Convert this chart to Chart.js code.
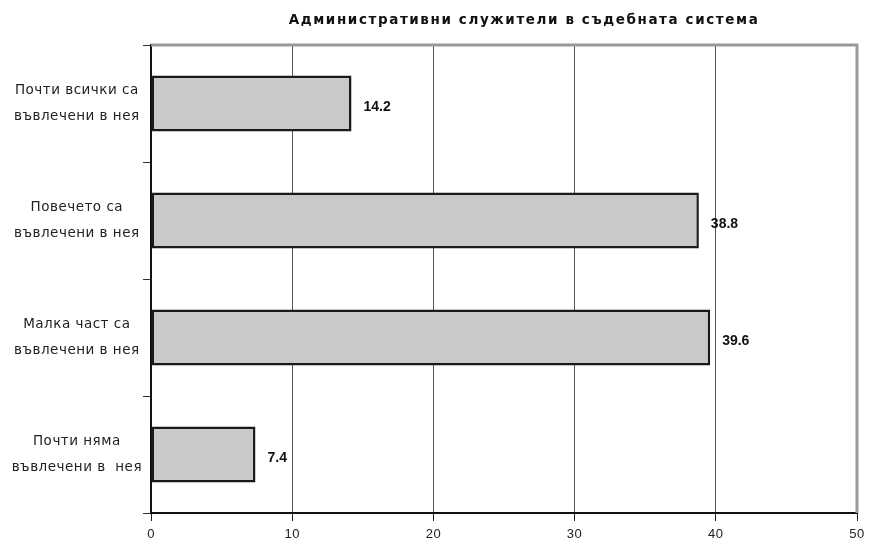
<!DOCTYPE html>
<html>
<head>
<meta charset="utf-8">
<script src="https://cdn.jsdelivr.net/npm/chart.js@4.4.0/dist/chart.umd.min.js"></script>
<style>
  html, body { margin: 0; padding: 0; background: #fff; }
  #wrap { width: 869px; height: 548px; }
</style>
</head>
<body>
<div id="wrap"><canvas id="mycanvas"></canvas></div>
<script>
var categories = [
	["Почти всички са", "въвлечени в нея"],
	["Повечето са", "въвлечени в нея"],
	["Малка част са", "въвлечени в нея"],
	["Почти няма", "въвлечени в  нея"]
];
var values = [14.2, 38.8, 39.6, 7.4];
var title = "Административни служители в съдебната система";

// the reference text is a little spaced out
var spacing = {
	id: "spacing",
	beforeLayout: function(chart) { chart.ctx.letterSpacing = "0.5px"; },
	beforeDraw: function(chart) { chart.ctx.letterSpacing = "0.5px"; }
};

// title, sitting a bit right of the plot centre like the original
var plotTitle = {
	id: "plotTitle",
	afterDraw: function(chart) {
		var a = chart.chartArea, ctx = chart.ctx;
		ctx.save();
		ctx.letterSpacing = "1.6px";
		ctx.font = "bold 13.5px 'DejaVu Sans', sans-serif";
		ctx.fillStyle = "#111";
		ctx.textAlign = "center";
		ctx.textBaseline = "middle";
		ctx.fillText(title, (a.left + a.right) / 2 + 20, 20);
		ctx.restore();
	}
};

// value labels to the right of each bar
var valueLabels = {
	id: "valueLabels",
	afterDatasetsDraw: function(chart) {
		var ctx = chart.ctx;
		var meta = chart.getDatasetMeta(0);
		ctx.save();
		ctx.letterSpacing = "0px";
		ctx.font = "bold 14px 'Liberation Sans', Arial, sans-serif";
		ctx.fillStyle = "#111";
		ctx.textBaseline = "middle";
		meta.data.forEach(function(bar, i) {
			ctx.fillText(values[i].toFixed(1), bar.x + 12, bar.y + 4);
		});
		ctx.restore();
	}
};

// gray frame on top and right of the plot
var frame = {
	id: "frame",
	beforeDatasetsDraw: function(chart) {
		var a = chart.chartArea, ctx = chart.ctx;
		ctx.save();
		ctx.strokeStyle = "#999";
		ctx.lineWidth = 3;
		ctx.beginPath();
		ctx.moveTo(a.left, a.top);
		ctx.lineTo(a.right, a.top);
		ctx.lineTo(a.right, a.bottom);
		ctx.stroke();
		ctx.restore();
	}
};

var ctx = document.getElementById("mycanvas");
var chart = new Chart(ctx, {
	type: "bar",
	data: {
		labels: categories,
		datasets: [{
			data: values,
			backgroundColor: "#c8c9cb",
			borderColor: "#1a1a1a",
			borderWidth: 2.5,
			borderSkipped: false,
			barPercentage: 0.48,
			categoryPercentage: 1
		}]
	},
	options: {
		indexAxis: "y",
		responsive: true,
		maintainAspectRatio: false,
		animation: false,
		layout: { padding: { left: 0, right: 0, top: 45, bottom: 0 } },
		plugins: {
			legend: { display: false },
			tooltip: { enabled: false },
			title: { display: false }
		},
		scales: {
			x: {
				min: 0,
				max: 50,
				ticks: {
					stepSize: 10,
					color: "#222",
					font: { family: "'Liberation Sans', Arial, sans-serif", size: 13 },
					padding: 6
				},
				grid: { color: "#555", lineWidth: 1, tickLength: 8, tickColor: "#222" },
				border: { color: "#111", width: 2 },
				afterFit: function(s) { s.height = 35; s.paddingRight = 12; }
			},
			y: {
				ticks: {
					color: "#222",
					font: { family: "'DejaVu Sans', sans-serif", size: 13.5, lineHeight: 1.9 },
					crossAlign: "center",
					padding: 1
				},
				grid: { offset: true, drawOnChartArea: false, tickLength: 8, tickColor: "#333" },
				border: { color: "#111", width: 2 },
				afterFit: function(s) { s.width = 151; }
			}
		}
	},
	plugins: [spacing, frame, valueLabels, plotTitle]
});
</script>
</body>
</html>
